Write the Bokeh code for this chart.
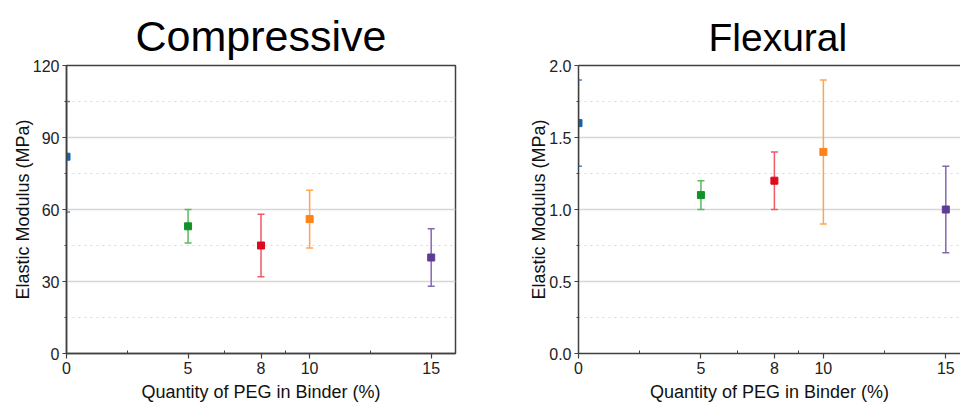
from bokeh.plotting import figure
from bokeh.models import (ColumnDataSource, Whisker, TeeHead, FixedTicker, LinearAxis,
                          Range1d, PrintfTickFormatter)
from bokeh.layouts import row
from bokeh.core.properties import field
from bokeh.embed import file_html
from bokeh.resources import INLINE

# ---- data ----
peg_pct = [0, 5, 8, 10, 15]
comp_mean = [82, 53, 45, 56, 40]
comp_err = [23, 7, 13, 12, 12]
flex_mean = [1.6, 1.1, 1.2, 1.4, 1.0]
flex_err = [0.3, 0.1, 0.2, 0.5, 0.3]
x_ticks = [0, 5, 8, 10, 15]
x_minor = [2.5, 6.5, 9, 12.5]
comp_yticks = [0, 30, 60, 90, 120]
comp_yminor = [15, 45, 75, 105]
flex_yticks = [0, 0.5, 1.0, 1.5, 2.0]
flex_yminor = [0.25, 0.75, 1.25, 1.75]

marker_colors = ["#1763AE", "#12912A", "#DD0B1E", "#FF8216", "#5F3C96"]
bar_colors = ["#3D86D0", "#5BB85F", "#EE5A66", "#FFA54F", "#8468B0"]

FONT = "Liberation Sans"
AX = "#404040"


def make(title, mean, err, yticks, yminor, ymax, xend, width, border_left,
         border_right, title_size, outline, yfmt, title_align, title_offset,
         title_standoff):
    src = ColumnDataSource(dict(
        x=peg_pct, y=mean,
        upper=[m + e for m, e in zip(mean, err)],
        lower=[m - e for m, e in zip(mean, err)],
        mc=marker_colors, bc=bar_colors))
    p = figure(width=width, height=407,
               x_range=Range1d(0, xend), y_range=Range1d(0, ymax),
               output_backend="svg", toolbar_location=None,
               min_border_left=border_left, min_border_top=65,
               min_border_bottom=54, min_border_right=border_right)
    p.title.text = title
    p.title.text_font = FONT
    p.title.text_font_size = title_size
    p.title.text_font_style = "normal"
    p.title.text_color = "#000000"
    p.title.align = title_align
    p.title.offset = title_offset
    p.title.standoff = title_standoff
    p.background_fill_color = "white"
    p.border_fill_color = "white"

    xa = p.below[0]
    ya = p.left[0]
    xa.ticker = FixedTicker(ticks=x_ticks, minor_ticks=x_minor)
    ya.ticker = FixedTicker(ticks=yticks, minor_ticks=yminor)
    ya.formatter = PrintfTickFormatter(format=yfmt)
    for ax in (xa, ya):
        ax.axis_line_color = AX
        ax.axis_line_width = 1.5
        ax.major_tick_line_color = AX
        ax.major_tick_line_width = 1.2
        ax.minor_tick_line_color = AX
        ax.major_label_text_font = FONT
        ax.major_label_text_font_size = "16px"
        ax.major_label_text_color = "#222222"
        ax.axis_label_text_font = FONT
        ax.axis_label_text_font_size = "18px"
        ax.axis_label_text_font_style = "normal"
        ax.axis_label_text_color = "#111111"
    xa.major_tick_in = 0
    xa.major_tick_out = 5
    xa.minor_tick_in = 3
    xa.minor_tick_out = 0
    ya.major_tick_in = 0
    ya.major_tick_out = 4
    ya.minor_tick_in = 0
    ya.minor_tick_out = 2
    xa.major_label_standoff = 3
    ya.major_label_standoff = 3
    xa.axis_label_standoff = 5
    ya.axis_label_standoff = -3
    xa.axis_label = "Quantity of PEG in Binder (%)"
    ya.axis_label = "Elastic Modulus (MPa)"

    if outline:
        p.outline_line_color = AX
        p.outline_line_width = 1.5
    else:
        p.outline_line_color = None
        top = LinearAxis(ticker=FixedTicker(ticks=[]), axis_line_color=AX,
                         axis_line_width=1.5, major_tick_line_color=None,
                         minor_tick_line_color=None, major_tick_out=0,
                         major_label_standoff=0, axis_label_standoff=0,
                         major_label_text_font_size="0px")
        p.add_layout(top, "above")

    p.xgrid.visible = False
    p.ygrid.ticker = FixedTicker(ticks=yticks, minor_ticks=yminor)
    p.ygrid.grid_line_color = "#d6d6d6"
    p.ygrid.grid_line_width = 1.5
    p.ygrid.minor_grid_line_color = "#d9d9d9"
    p.ygrid.minor_grid_line_dash = "dotted"
    p.ygrid.minor_grid_line_width = 1

    w = Whisker(base="x", upper="upper", lower="lower", source=src,
                line_color=field("bc"), line_width=1.5,
                upper_head=TeeHead(size=7, line_color=field("bc"), line_width=1.5),
                lower_head=TeeHead(size=7, line_color=field("bc"), line_width=1.5))
    p.add_layout(w)
    p.scatter("x", "y", source=src, marker="square", size=7,
              fill_color="mc", line_color="mc")
    return p


p1 = make("Compressive", comp_mean, comp_err, comp_yticks, comp_yminor, 120,
          16, 498, 66, 43, "43px", True, "%d", "center", 0, 12)
p2 = make("Flexural", flex_mean, flex_err, flex_yticks, flex_yminor, 2.0,
          15.6, 462, 80, 0, "39px", False, "%.1f", "left", 130, 14)

layout = row(p1, p2)
open("out.html", "w").write(file_html(layout, INLINE))
